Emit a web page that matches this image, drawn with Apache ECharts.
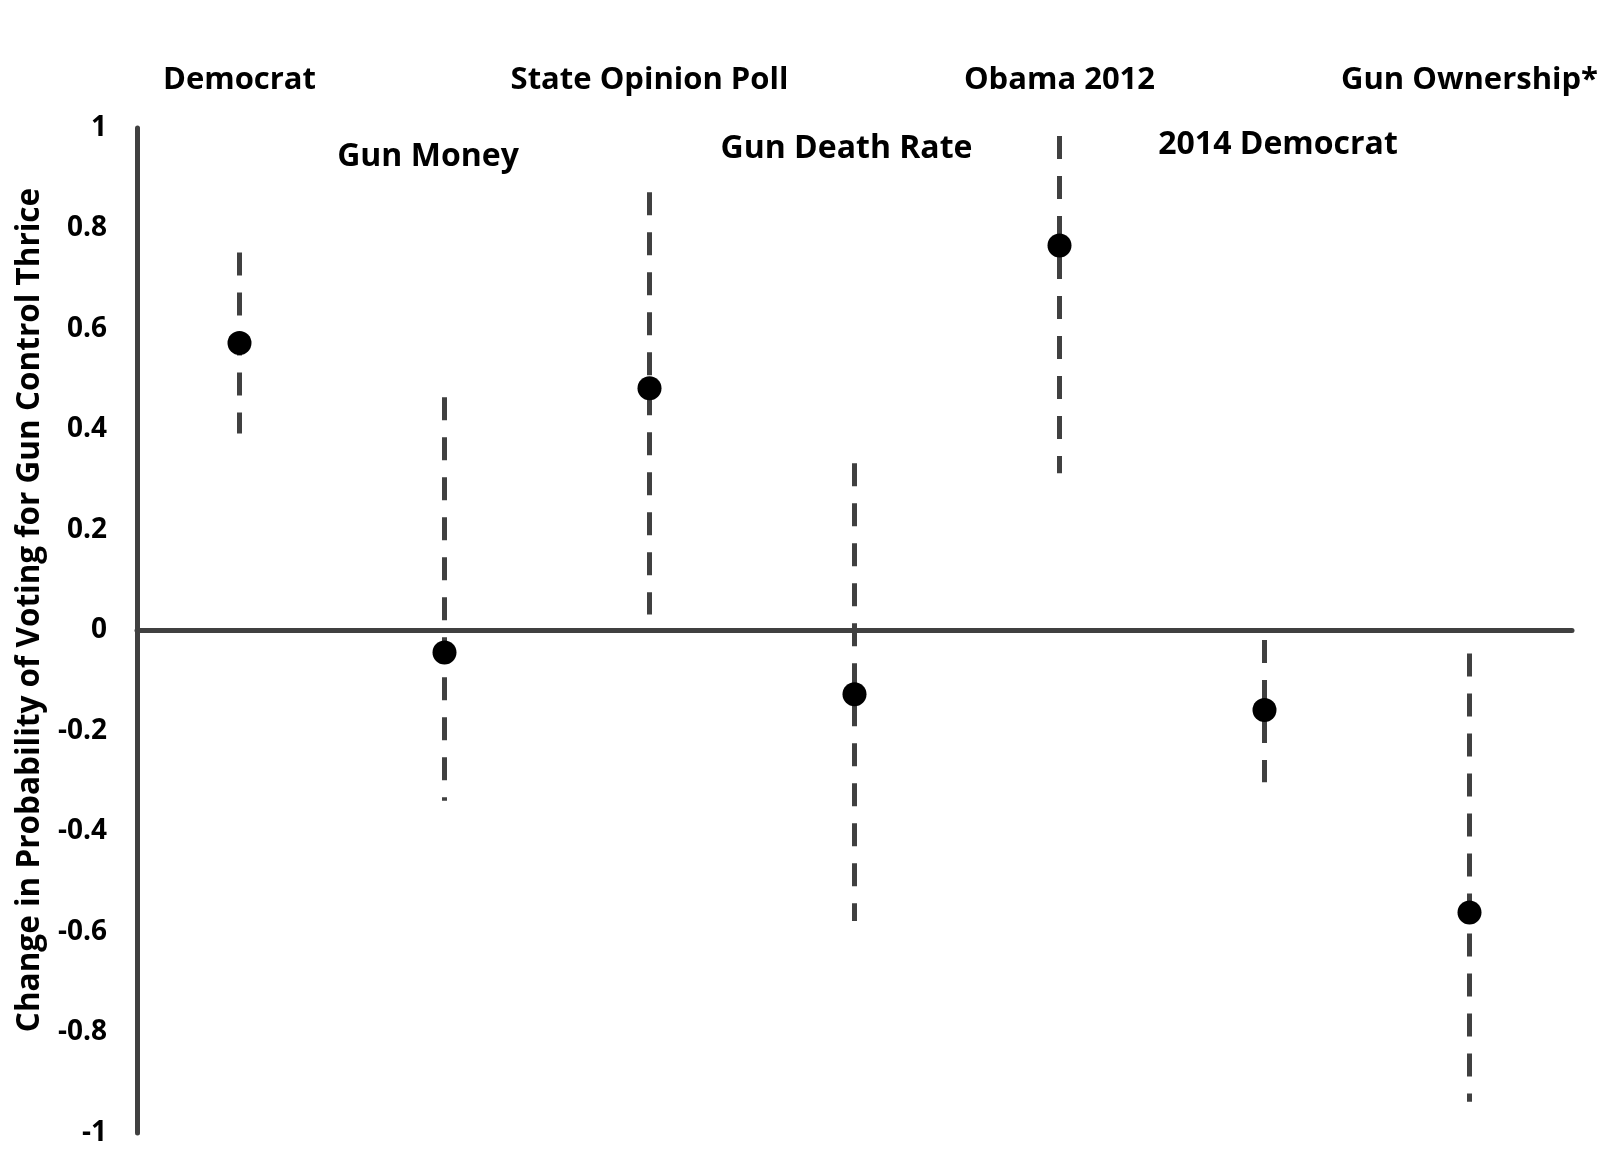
<!DOCTYPE html>
<html>
<head>
<meta charset="utf-8">
<title>Change in Probability of Voting for Gun Control Thrice</title>
<script src="https://cdn.jsdelivr.net/npm/echarts@6/dist/echarts.min.js"></script>
<style>
  html, body { margin: 0; padding: 0; background: #ffffff; }
  #chart { width: 1606px; height: 1172px; }
</style>
</head>
<body>
<div id="chart"></div>
<script>
// Predictors and their estimated effects with confidence intervals
const categories = ['Democrat', 'Gun Money', 'State Opinion Poll', 'Gun Death Rate', 'Obama 2012', '2014 Democrat', 'Gun Ownership*'];
const estimates   = [0.572, -0.044, 0.482, -0.127, 0.766, -0.158, -0.561];
const lowerBounds = [0.392, -0.339, 0.032, -0.578, 0.313, -0.302, -0.938];
const upperBounds = [0.752, 0.464, 0.872, 0.333, 0.984, -0.019, -0.046];
const yTicks = [-1, -0.8, -0.6, -0.4, -0.2, 0, 0.2, 0.4, 0.6, 0.8, 1];

const FONT = '"Open Sans", "Liberation Sans", sans-serif';
const INK = '#404040';

// nudges for the staggered lower row of names: [top, right, bottom, left] padding
const lowerRowNudge = {
  'Gun Money': [16, 33, 0, 0],
  'Gun Death Rate': [0, 16, 0, 0],
  '2014 Democrat': [0, 0, 8, 27]
};

const chart = echarts.init(document.getElementById('chart'), null, { renderer: 'canvas' });

const intervalData = categories.map((c, i) => [i, lowerBounds[i], upperBounds[i]]);
const pointData = categories.map((c, i) => [i, estimates[i]]);

const lowerRich = {};
Object.keys(lowerRowNudge).forEach((name, k) => {
  lowerRich['n' + k] = {
    padding: lowerRowNudge[name],
    color: '#000',
    fontFamily: FONT,
    fontWeight: 'bold',
    fontSize: 32
  };
});

chart.setOption({
  animation: false,
  backgroundColor: '#ffffff',
  grid: { left: 137, right: 34, top: 128, bottom: 39, containLabel: false },
  xAxis: [
    {
      // axis line drawn along y = 0
      type: 'category',
      data: categories,
      position: 'bottom',
      axisLine: { show: true, onZero: true, lineStyle: { color: INK, width: 5 } },
      axisTick: { show: false },
      axisLabel: { show: false },
      splitLine: { show: false }
    },
    {
      // upper row of predictor names
      type: 'category',
      data: categories,
      position: 'top',
      axisLine: { show: false, onZero: false },
      axisTick: { show: false },
      splitLine: { show: false },
      axisLabel: {
        show: true,
        interval: (i) => i % 2 === 0,
        margin: 48,
        verticalAlign: 'middle',
        color: '#000',
        fontFamily: FONT,
        fontWeight: 'bold',
        fontSize: 31
      }
    },
    {
      // lower row of predictor names
      type: 'category',
      data: categories,
      position: 'top',
      axisLine: { show: false, onZero: false },
      axisTick: { show: false },
      splitLine: { show: false },
      axisLabel: {
        show: true,
        interval: (i) => i % 2 === 1,
        margin: -21,
        verticalAlign: 'middle',
        color: '#000',
        fontFamily: FONT,
        fontWeight: 'bold',
        fontSize: 32,
        formatter: (value) => {
          const k = Object.keys(lowerRowNudge).indexOf(value);
          return k >= 0 ? '{n' + k + '|' + value + '}' : value;
        },
        rich: lowerRich
      }
    }
  ],
  yAxis: {
    type: 'value',
    min: yTicks[0],
    max: yTicks[yTicks.length - 1],
    interval: 0.2,
    name: 'Change in Probability of Voting for Gun Control Thrice',
    nameLocation: 'middle',
    nameGap: 91,
    nameRotate: 90,
    nameTextStyle: {
      color: '#000',
      fontFamily: FONT,
      fontWeight: 'bold',
      fontSize: 31.5,
      padding: [0, 0, 0, 41]
    },
    axisLine: { show: true, lineStyle: { color: INK, width: 5 } },
    axisTick: { show: false },
    splitLine: { show: false },
    axisLabel: {
      color: '#000',
      fontFamily: FONT,
      fontWeight: 'bold',
      fontSize: 28,
      margin: 30
    }
  },
  series: [
    {
      name: 'interval',
      type: 'custom',
      xAxisIndex: 0,
      data: intervalData,
      renderItem: (params, api) => {
        const top = api.coord([api.value(0), api.value(2)]);
        const bottom = api.coord([api.value(0), api.value(1)]);
        return {
          type: 'line',
          shape: { x1: top[0], y1: top[1], x2: bottom[0], y2: bottom[1] },
          style: { stroke: INK, lineWidth: 5, lineDash: [23, 17] }
        };
      },
      z: 2
    },
    {
      name: 'estimate',
      type: 'scatter',
      xAxisIndex: 0,
      data: pointData,
      symbol: 'circle',
      symbolSize: 24,
      itemStyle: { color: '#000', opacity: 1 },
      z: 3
    }
  ]
});
</script>
</body>
</html>
